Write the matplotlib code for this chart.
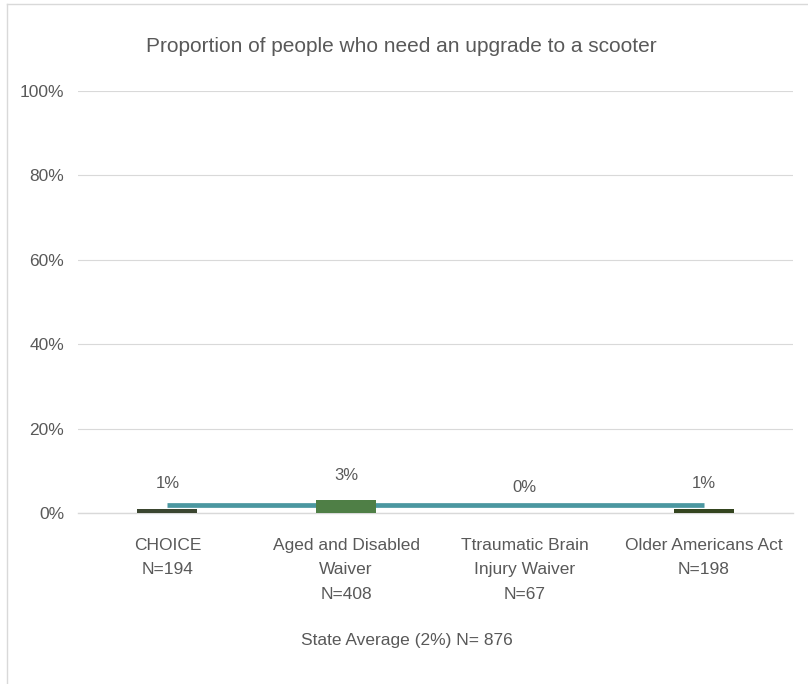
import matplotlib.pyplot as plt
from matplotlib.lines import Line2D
import numpy as np

plt.rcParams['font.family'] = ['Liberation Sans', 'DejaVu Sans']

# data
categories = ['CHOICE\nN=194', 'Aged and Disabled\nWaiver\nN=408',
              'Ttraumatic Brain\nInjury Waiver\nN=67', 'Older Americans Act\nN=198']
values = [1, 3, 0, 1]
value_labels = ['1%', '3%', '0%', '1%']
state_avg = [2, 2, 2, 2]
bar_colors = ['#3b4630', '#4f7f46', '#4f7f46', '#34451f']
yticks = [0, 20, 40, 60, 80, 100]

grey = '#595959'

fig = plt.figure(figsize=(8.08, 6.84), dpi=100)
ax = fig.add_axes([78/808, 171/684, 715/808, 422/684])

x = np.arange(len(categories))

# state average line, bars on top of it
ax.plot(x, state_avg, color='#4b97a0', linewidth=3.4, solid_capstyle='butt', zorder=2)
bars = ax.bar(x, values, 0.335, color=bar_colors, zorder=3)

for xi, v, lab in zip(x, values, value_labels):
    ax.annotate(lab, (xi, v), xytext=(0, 18), textcoords='offset points',
                ha='center', va='center', fontsize=12, color=grey)

ax.set_xlim(-0.5, len(categories) - 0.5)
ax.set_ylim(0, 100)
ax.set_yticks(yticks)
ax.set_yticklabels(['{}%'.format(t) for t in yticks], fontsize=12.5, color=grey)
ax.set_xticks(x)
ax.set_xticklabels(categories, fontsize=12.5, color=grey, linespacing=1.78)
ax.tick_params(axis='y', length=0, pad=10)
ax.tick_params(axis='x', length=0, pad=18)
ax.grid(axis='y', color='#d9d9d9', linewidth=0.8, zorder=0)
ax.axhline(0, color='#d9d9d9', linewidth=1.0, zorder=1, clip_on=False)
for s in ax.spines.values():
    s.set_visible(False)

fig.text(401/808, 1 - 47/684, 'Proportion of people who need an upgrade to a scooter',
         ha='center', va='center', fontsize=15, color=grey)
fig.text(407/808, 1 - 641/684, 'State Average (2%) N= 876',
         ha='center', va='center', fontsize=12.5, color=grey)

# chart frame (left and top edges visible)
fig.add_artist(Line2D([7/808, 7/808], [0, 1 - 4/684], color='#d9d9d9', linewidth=1))
fig.add_artist(Line2D([7/808, 1], [1 - 4/684, 1 - 4/684], color='#d9d9d9', linewidth=1))

fig.savefig('out.png', dpi=100)
